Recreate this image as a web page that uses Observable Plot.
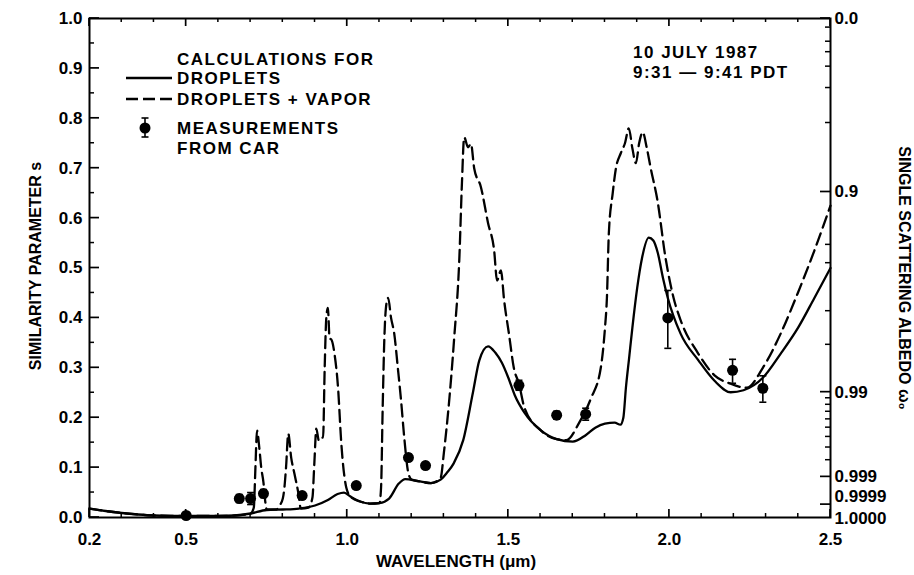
<!DOCTYPE html>
<html><head><meta charset="utf-8">
<script src="https://cdn.jsdelivr.net/npm/d3@7"></script>
<script src="https://cdn.jsdelivr.net/npm/@observablehq/plot@0.6"></script>
<style>
html,body{margin:0;padding:0;background:#fff;}
#chart{position:relative;width:914px;height:575px;}
#chart svg text{font-family:"Liberation Sans",Arial,sans-serif !important;font-weight:bold !important;}
</style></head><body><div id="chart"></div>
<script>
// Calculations for droplets (solid)
const solidX = [0.20,0.25,0.30,0.35,0.40,0.50,0.60,0.65,0.70,0.75,0.80,0.85,0.90,0.94,0.97,0.99,1.01,1.04,1.07,1.10,1.13,1.16,1.18,1.22,1.26,1.29,1.31,1.33,1.36,1.39,1.41,1.437,1.46,1.48,1.50,1.52,1.55,1.60,1.65,1.70,1.74,1.77,1.80,1.83,1.848,1.857,1.865,1.875,1.885,1.90,1.915,1.936,1.95,1.964,1.98,1.995,2.035,2.09,2.14,2.19,2.23,2.29,2.345,2.40,2.45,2.50];
const solidY = [0.018,0.013,0.009,0.006,0.004,0.003,0.003,0.004,0.008,0.015,0.016,0.018,0.024,0.035,0.047,0.050,0.042,0.032,0.028,0.029,0.038,0.068,0.077,0.073,0.069,0.076,0.090,0.108,0.155,0.250,0.315,0.343,0.330,0.310,0.280,0.245,0.210,0.175,0.157,0.152,0.165,0.180,0.188,0.190,0.186,0.200,0.260,0.320,0.380,0.460,0.520,0.561,0.555,0.530,0.480,0.440,0.368,0.315,0.274,0.251,0.255,0.280,0.328,0.381,0.440,0.500];
// Droplets + vapor (dashed)
const dashX = [0.20,0.25,0.30,0.35,0.40,0.50,0.60,0.65,0.70,0.71,0.715,0.72,0.727,0.733,0.74,0.745,0.75,0.78,0.79,0.80,0.805,0.81,0.817,0.826,0.836,0.848,0.856,0.88,0.892,0.898,0.904,0.912,0.92,0.925,0.93,0.935,0.94,0.945,0.952,0.96,0.972,0.981,0.997,1.01,1.04,1.07,1.10,1.105,1.11,1.115,1.122,1.127,1.136,1.146,1.157,1.167,1.177,1.19,1.20,1.22,1.26,1.29,1.30,1.313,1.332,1.348,1.356,1.363,1.375,1.384,1.394,1.415,1.437,1.456,1.465,1.477,1.487,1.502,1.517,1.533,1.55,1.60,1.65,1.68,1.72,1.756,1.787,1.80,1.806,1.812,1.824,1.834,1.849,1.862,1.874,1.885,1.896,1.906,1.917,1.93,1.942,1.963,1.988,2.013,2.035,2.088,2.14,2.19,2.24,2.29,2.345,2.398,2.45,2.50];
const dashY = [0.018,0.013,0.009,0.006,0.004,0.003,0.003,0.004,0.008,0.020,0.100,0.174,0.140,0.100,0.070,0.035,0.016,0.016,0.024,0.038,0.060,0.100,0.168,0.120,0.088,0.050,0.018,0.020,0.040,0.110,0.178,0.154,0.160,0.160,0.300,0.400,0.420,0.360,0.355,0.330,0.255,0.154,0.060,0.042,0.032,0.028,0.029,0.060,0.220,0.355,0.430,0.440,0.400,0.368,0.300,0.235,0.160,0.088,0.076,0.073,0.069,0.080,0.130,0.210,0.360,0.520,0.670,0.762,0.742,0.749,0.700,0.662,0.590,0.535,0.475,0.495,0.435,0.368,0.300,0.268,0.220,0.175,0.157,0.155,0.190,0.238,0.300,0.380,0.440,0.570,0.650,0.700,0.730,0.750,0.780,0.740,0.710,0.750,0.772,0.740,0.700,0.635,0.520,0.440,0.395,0.330,0.285,0.268,0.260,0.300,0.368,0.449,0.535,0.625];
// Measurements from CAR
const measX    = [0.50,0.665,0.70,0.74,0.86,1.028,1.19,1.243,1.533,1.65,1.74,1.995,2.196,2.29];
const measY    = [0.004,0.038,0.038,0.048,0.044,0.064,0.120,0.104,0.265,0.205,0.207,0.400,0.295,0.259];
const measLow  = [0.000,0.030,0.026,0.040,0.038,0.058,0.113,0.098,0.255,0.197,0.195,0.339,0.269,0.231];
const measHigh = [0.008,0.046,0.050,0.056,0.050,0.070,0.127,0.110,0.275,0.213,0.219,0.455,0.317,0.284];
// Axis ticks
const xMajor = [0.2,0.5,1.0,1.5,2.0,2.5];
const xMinor = [0.3,0.4,0.6,0.7,0.8,0.9,1.1,1.2,1.3,1.4,1.6,1.7,1.8,1.9,2.1,2.2,2.3,2.4];
const yMajor = [0,0.1,0.2,0.3,0.4,0.5,0.6,0.7,0.8,0.9,1.0];
const yMinor = [0.05,0.15,0.25,0.35,0.45,0.55,0.65,0.75,0.85,0.95];
const albedoMajor = [0.0,0.9,0.99,0.999,0.9999];
const albedoMajorLabels = ["0.0","0.9","0.99","0.999"];
const albedoMinor = [0.2,0.4,0.5,0.6,0.7,0.8,0.94,0.95,0.97,0.98,0.991,0.992,0.993,0.994,0.995,0.996,0.997,0.998];
const albedoFine = [0.9999];
const albedoFineLabels = ["0.9999"];
const albedoEnd = [1.0];
const albedoEndLabels = ["1.0000"];

const G = 0.85; // asymmetry factor relating s and single scattering albedo
const sim = w => Math.sqrt((1 - w) / (1 - G * w));
const labelOf = (vals, labels) => d => { let b = 0, bd = Infinity; vals.forEach((w,i)=>{const dd=Math.abs(sim(w)-d); if(dd<bd){bd=dd;b=i;}}); return labels[b]; };

const solid = solidX.map((x,i)=>({x, y: solidY[i]}));
const dashed = dashX.map((x,i)=>({x, y: dashY[i]}));
const meas = measX.map((x,i)=>({x, y: measY[i], lo: measLow[i], hi: measHigh[i]}));
const capSymbol = {draw(ctx, size){const r=Math.sqrt(size/Math.PI); ctx.moveTo(-r,0); ctx.lineTo(r,0);}};
const TF = {fontSize: 17, letterSpacing: 1};

const plot = Plot.plot({
  width: 914, height: 575,
  marginLeft: 89, marginRight: 84, marginTop: 18, marginBottom: 58,
  x: {domain: [0.2, 2.5]},
  y: {domain: [0, 1]},
  style: {fontFamily: "Liberation Sans, Arial, sans-serif", fontSize: "17px", fontWeight: "bold", background: "#fff", color: "#000"},
  marks: [
    Plot.frame({stroke: "black", strokeWidth: 2, fill: "none"}),
    // tick labels
    Plot.axisX(xMajor, {anchor: "bottom", tickSize: 0, tickPadding: 15, tickFormat: d3.format(".1f"), label: null, ...TF}),
    Plot.axisY(yMajor, {anchor: "left", tickSize: 0, tickPadding: 7, tickFormat: d3.format(".1f"), label: null, ...TF}),
    Plot.axisY(albedoMajor.slice(0, 4).map(sim), {anchor: "right", tickSize: 0, tickPadding: 4, tickFormat: labelOf(albedoMajor.slice(0, 4), albedoMajorLabels), label: null, ...TF}),
    Plot.axisY(albedoFine.map(sim), {anchor: "right", tickSize: 0, tickPadding: 4, tickFormat: labelOf(albedoFine, albedoFineLabels), label: null, ...TF, dy: -8}),
    Plot.axisY(albedoEnd.map(sim), {anchor: "right", tickSize: 0, tickPadding: 4, tickFormat: labelOf(albedoEnd, albedoEndLabels), label: null, ...TF, dy: 1}),
    // axis titles
    Plot.text(["WAVELENGTH (μm)"], {frameAnchor: "bottom", textAnchor: "middle", dy: 44, dx: -4, fontSize: 17, letterSpacing: 1.5, lineAnchor: "middle"}),
    Plot.text(["SIMILARITY PARAMETER s"], {frameAnchor: "left", textAnchor: "middle", dx: -54, dy: -2, rotate: -90, fontSize: 16, letterSpacing: 1, lineAnchor: "middle"}),
    Plot.text(["SINGLE SCATTERING ALBEDO ω₀"], {frameAnchor: "right", textAnchor: "middle", dx: 74, dy: 10, rotate: 90, fontSize: 16, letterSpacing: 0.7, lineAnchor: "middle"}),
    // data
    Plot.line(solid, {x: "x", y: "y", stroke: "black", strokeWidth: 2.3, curve: "monotone-x"}),
    Plot.line(dashed, {x: "x", y: "y", stroke: "black", strokeWidth: 2.3, strokeDasharray: "12,6", curve: "monotone-x"}),
    Plot.ruleX(meas, {x: "x", y1: "lo", y2: "hi", stroke: "black", strokeWidth: 1.6}),
    Plot.dot(meas, {x: "x", y: "lo", symbol: capSymbol, r: 3.5, stroke: "black", strokeWidth: 1.6, fill: "none"}),
    Plot.dot(meas, {x: "x", y: "hi", symbol: capSymbol, r: 3.5, stroke: "black", strokeWidth: 1.6, fill: "none"}),
    Plot.dot(meas, {x: "x", y: "y", r: 5.5, fill: "black", stroke: "none"})
  ]
});
document.getElementById("chart").appendChild(plot);

const svg = d3.select(plot);
// Inward ticks, placed with the plot's own x and y scales
const xs = plot.scale("x"), ys = plot.scale("y");
const [xl, xr] = xs.range, [yb, yt] = ys.range;
const tg = svg.append("g").attr("stroke", "black").attr("fill", "none");
const addX = (vals, len, sw) => vals.forEach(v => {
  const px = xs.apply(v);
  tg.append("line").attr("x1", px).attr("x2", px).attr("y1", yb).attr("y2", yb - len).attr("stroke-width", sw);
  tg.append("line").attr("x1", px).attr("x2", px).attr("y1", yt).attr("y2", yt + len).attr("stroke-width", sw);
});
const addY = (vals, side, len, sw) => vals.forEach(v => {
  const py = ys.apply(v);
  const x0 = side === "left" ? xl : xr, x1 = side === "left" ? xl + len : xr - len;
  tg.append("line").attr("x1", x0).attr("x2", x1).attr("y1", py).attr("y2", py).attr("stroke-width", sw);
});
addX(xMajor, 8, 1.7);
addX(xMinor, 4, 1.5);
addY(yMajor, "left", 10, 1.7);
addY(yMinor, "left", 5, 1.5);
addY(albedoMajor.map(sim), "right", 10, 1.7);
addY(albedoMinor.map(sim), "right", 5, 1.5);

// Legend and annotation (inside the frame)
const lg = svg.append("g").attr("font-size", 17).attr("fill", "black").attr("text-anchor", "start").attr("letter-spacing", 1.5);
const legendText = [["CALCULATIONS FOR", 59], ["DROPLETS", 78], ["DROPLETS + VAPOR", 99], ["MEASUREMENTS", 128], ["FROM CAR", 148]];
legendText.forEach(([t, y]) => lg.append("text").attr("x", 177).attr("y", y).attr("dy", "0.35em").attr("text-anchor", "start").text(t));
lg.append("line").attr("x1", 126).attr("x2", 172).attr("y1", 78).attr("y2", 78).attr("stroke", "black").attr("stroke-width", 2.3);
lg.append("line").attr("x1", 126).attr("x2", 172).attr("y1", 99).attr("y2", 99).attr("stroke", "black").attr("stroke-width", 2.3).attr("stroke-dasharray", "12,5");
lg.append("line").attr("x1", 145).attr("x2", 145).attr("y1", 118).attr("y2", 137).attr("stroke", "black").attr("stroke-width", 1.6);
lg.append("line").attr("x1", 141.5).attr("x2", 148.5).attr("y1", 118).attr("y2", 118).attr("stroke", "black").attr("stroke-width", 1.6);
lg.append("line").attr("x1", 141.5).attr("x2", 148.5).attr("y1", 137).attr("y2", 137).attr("stroke", "black").attr("stroke-width", 1.6);
lg.append("circle").attr("cx", 145).attr("cy", 128).attr("r", 5.5).attr("fill", "black");
[["10 JULY 1987", 52], ["9:31 — 9:41 PDT", 72]].forEach(([t, y]) => lg.append("text").attr("x", 633).attr("y", y).attr("dy", "0.35em").attr("text-anchor", "start").text(t));
</script></body></html>
